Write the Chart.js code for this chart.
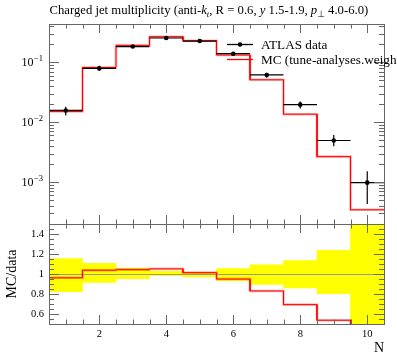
<!DOCTYPE html>
<html>
<head>
<meta charset="utf-8">
<script src="https://cdn.jsdelivr.net/npm/chart.js@4.4.0/dist/chart.umd.min.js"></script>
<style>
  html, body { margin: 0; padding: 0; background: #fff; }
  #wrap { width: 397px; height: 358px; }
</style>
</head>
<body>
<div id="wrap"><canvas id="c" width="397" height="358"></canvas></div>
<script>
// bin centres (N) and values
const nValues = [1, 2, 3, 4, 5, 6, 7, 8, 9, 10];
const dataValues = [0.0157, 0.079, 0.183, 0.254, 0.226, 0.139, 0.0614, 0.0196, 0.00495, 0.00098];
const mcValues = [0.0151, 0.082, 0.191, 0.267, 0.229, 0.132, 0.0510, 0.0136, 0.00266, 0.000345];
// relative data uncertainty (up / down), also the yellow band in the ratio
const errUpRel = [0.155, 0.107, 0.06, 0.026, 0.016, 0.055, 0.092, 0.133, 0.237, 0.55];
const errDnRel = [0.177, 0.083, 0.047, 0.017, 0.03, 0.067, 0.104, 0.14, 0.197, 0.56];

const xTicks = [2, 4, 6, 8, 10];
const ratioTicks = [0.6, 0.8, 1, 1.2, 1.4];
const mainDecades = [-3, -2, -1];

const SERIF = '"Liberation Serif", "DejaVu Serif", serif';
const FRAME = '#666';

// histogram outline: each bin becomes two points (low edge, high edge)
function stepPoints(vals) {
  const pts = [];
  nValues.forEach((n, i) => {
    pts.push({ x: n - 0.5, y: vals[i] });
    pts.push({ x: n + 0.5, y: vals[i] });
  });
  return pts;
}

const ratioValues = mcValues.map((v, i) => v / dataValues[i]);

const errorBars = [];
nValues.forEach((n, i) => {
  const d = dataValues[i];
  errorBars.push({ x: n - 0.5, y: d }, { x: n + 0.5, y: d }, { x: n, y: null });
  errorBars.push({ x: n, y: d * (1 + errUpRel[i]) }, { x: n, y: d * (1 - errDnRel[i]) }, { x: n, y: null });
});

const bandBars = nValues.map((n, i) => ({ x: n, y: [1 - errDnRel[i], 1 + errUpRel[i]] }));

function drawRich(ctx, parts, x, y) {
  parts.forEach(p => {
    ctx.font = p.font;
    ctx.fillText(p.t, x, y + (p.dy || 0));
    x += ctx.measureText(p.t).width;
  });
  return x;
}

const decor = {
  id: 'decor',
  afterDatasetDraw(chart, args) {
    // reference line at 1 sits on top of the yellow band
    if (args.index !== 0) return;
    const xs = chart.scales.x, yr = chart.scales.yr;
    const ctx = chart.ctx;
    const py = Math.round(yr.getPixelForValue(1)) + 0.5;
    ctx.save();
    ctx.strokeStyle = '#999';
    ctx.lineWidth = 1;
    ctx.beginPath();
    ctx.moveTo(xs.left, py);
    ctx.lineTo(xs.right, py);
    ctx.stroke();
    ctx.restore();
  },
  afterDraw(chart) {
    const ctx = chart.ctx;
    const xs = chart.scales.x, ym = chart.scales.y, yr = chart.scales.yr;
    const L = xs.left, R = xs.right;
    ctx.save();
    ctx.strokeStyle = FRAME;
    ctx.lineWidth = 1;

    // frames
    [[ym.top, ym.bottom], [yr.top, yr.bottom]].forEach(([t, b]) => {
      ctx.strokeRect(Math.round(L) + 0.5, Math.round(t) + 0.5, Math.round(R - L), Math.round(b - t));
    });

    ctx.beginPath();
    // x ticks, inward on each panel edge
    for (let v = 1; v <= 10; v += 0.5) {
      const major = v % 2 === 0;
      const len = major ? 9 : 4.5;
      const px = Math.round(xs.getPixelForValue(v)) + 0.5;
      [[ym.top, ym.bottom], [yr.top, yr.bottom]].forEach(([t, b]) => {
        ctx.moveTo(px, t); ctx.lineTo(px, t + len);
        ctx.moveTo(px, b); ctx.lineTo(px, b - len);
      });
    }
    // log y ticks
    const yTick = (py, len) => {
      py = Math.round(py) + 0.5;
      ctx.moveTo(L, py); ctx.lineTo(L + len, py);
      ctx.moveTo(R, py); ctx.lineTo(R - len, py);
    };
    for (let d = -4; d <= 0; d++) {
      for (let k = 1; k <= 9; k++) {
        const v = k * Math.pow(10, d);
        if (v <= ym.min || v >= ym.max) continue;
        yTick(ym.getPixelForValue(v), k === 1 ? 10 : 5);
      }
    }
    // ratio y ticks
    for (let i = 11; i <= 29; i++) {
      const v = i * 0.05;
      const major = i % 4 === 0;
      yTick(yr.getPixelForValue(v), major ? 10 : 5);
    }
    ctx.stroke();

    // main y labels 10^-n
    ctx.fillStyle = '#000';
    ctx.textBaseline = 'alphabetic';
    mainDecades.forEach(d => {
      const py = ym.getPixelForValue(Math.pow(10, d));
      ctx.font = '8.5px ' + SERIF;
      const sup = '\u2212' + Math.abs(d);
      const supW = ctx.measureText(sup).width;
      ctx.textAlign = 'left';
      const xr = 43;
      ctx.fillText(sup, xr - supW, py - 1);
      ctx.font = '12px ' + SERIF;
      const w = ctx.measureText('10').width;
      ctx.fillText('10', xr - supW - w - 0.5, py + 3.5);
    });

    // title
    ctx.textAlign = 'left';
    const T = 12.7;
    const nf = T + 'px ' + SERIF, itf = 'italic ' + T + 'px ' + SERIF;
    drawRich(ctx, [
      { t: 'Charged jet multiplicity (anti-', font: nf },
      { t: 'k', font: itf },
      { t: 't', font: 'italic ' + (T * 0.7) + 'px ' + SERIF, dy: 2.5 },
      { t: ', R = 0.6, ', font: nf },
      { t: 'y', font: itf },
      { t: ' 1.5-1.9, ', font: nf },
      { t: 'p', font: itf },
      { t: '\u22A5', font: (T * 0.7) + 'px "DejaVu Sans", sans-serif', dy: 2.5 },
      { t: ' 4.0-6.0)', font: nf }
    ], 49.5, 14);

    // legend
    ctx.lineWidth = 1.3;
    ctx.strokeStyle = '#000';
    ctx.beginPath();
    ctx.moveTo(227, 44.5); ctx.lineTo(253, 44.5);
    ctx.stroke();
    ctx.beginPath();
    ctx.arc(240, 44.5, 2.3, 0, Math.PI * 2);
    ctx.fill();
    ctx.strokeStyle = '#f00';
    ctx.beginPath();
    ctx.moveTo(227, 59.5); ctx.lineTo(253, 59.5);
    ctx.stroke();
    ctx.font = '13.2px ' + SERIF;
    ctx.fillText('ATLAS data', 261, 49);
    ctx.fillText('MC (tune-analyses.weights)', 261, 64);

    // axis titles
    ctx.font = '14px ' + SERIF;
    ctx.textAlign = 'right';
    ctx.fillText('N', R, 352);
    ctx.translate(16, (yr.top + yr.bottom) / 2);
    ctx.rotate(-Math.PI / 2);
    ctx.textAlign = 'center';
    ctx.fillText('MC/data', 0, 0);
    ctx.restore();
  }
};

new Chart(document.getElementById('c'), {
  type: 'line',
  data: {
    datasets: [
      { type: 'bar', data: bandBars, yAxisID: 'yr', backgroundColor: '#ffff00', borderWidth: 0,
        barPercentage: 1, categoryPercentage: 1, grouped: false, order: 10 },
      { data: stepPoints(mcValues), yAxisID: 'y', borderColor: 'rgba(255,0,0,0.3)', borderWidth: 2.6,
        pointRadius: 0, order: 8 },
      { data: stepPoints(mcValues), yAxisID: 'y', borderColor: '#f00', borderWidth: 1,
        pointRadius: 0, order: 7 },
      { data: stepPoints(ratioValues), yAxisID: 'yr', borderColor: 'rgba(255,0,0,0.3)', borderWidth: 2.6,
        pointRadius: 0, order: 6 },
      { data: stepPoints(ratioValues), yAxisID: 'yr', borderColor: '#f00', borderWidth: 1,
        pointRadius: 0, order: 5 },
      { data: errorBars, yAxisID: 'y', borderColor: '#000', borderWidth: 1.2, pointRadius: 0,
        spanGaps: false, order: 2 },
      { data: nValues.map((n, i) => ({ x: n, y: dataValues[i] })), yAxisID: 'y', showLine: false,
        pointRadius: 2.3, pointBackgroundColor: '#000', pointBorderWidth: 0, order: 1 }
    ]
  },
  options: {
    responsive: false,
    animation: false,
    layout: { padding: { top: 24, right: 13, left: 0, bottom: 0 } },
    plugins: { legend: { display: false }, tooltip: { enabled: false } },
    scales: {
      x: {
        type: 'linear', min: 0.5, max: 10.5, position: 'bottom', offset: false,
        grid: { display: false, drawTicks: false, offset: false }, border: { display: false },
        ticks: { font: { family: SERIF, size: 10.5 }, color: '#000', padding: 4, maxRotation: 0, autoSkip: false },
        afterBuildTicks: s => { s.ticks = xTicks.map(v => ({ value: v })); },
        afterFit: s => { s.height = 34; }
      },
      y: {
        type: 'logarithmic', min: 2.0e-4, max: 0.435, position: 'left',
        stack: 'panels', stackWeight: 2, weight: 1,
        grid: { display: false, drawTicks: false }, border: { display: false },
        ticks: { display: false },
        afterFit: s => { s.width = 49; }
      },
      yr: {
        type: 'linear', min: 0.5, max: 1.5, position: 'left',
        stack: 'panels', stackWeight: 1, weight: 0,
        grid: { display: false, drawTicks: false }, border: { display: false },
        ticks: { font: { family: SERIF, size: 10.5 }, color: '#000', padding: 5, autoSkip: false,
          callback: v => String(v) },
        afterBuildTicks: s => { s.ticks = ratioTicks.map(v => ({ value: v })); },
        afterFit: s => { s.width = 49; }
      }
    }
  },
  plugins: [decor]
});
</script>
</body>
</html>
